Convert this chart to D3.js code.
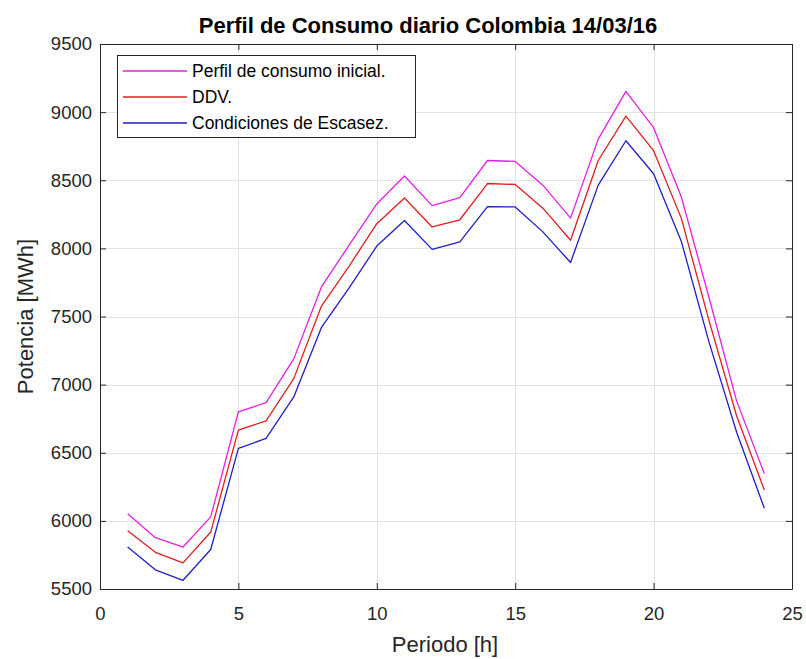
<!DOCTYPE html>
<html>
<head>
<meta charset="utf-8">
<script src="https://cdn.jsdelivr.net/npm/d3@7"></script>
<style>
  html, body { margin: 0; padding: 0; background: #ffffff; }
  svg { display: block; font-family: "Liberation Sans", Arial, Helvetica, sans-serif; }
</style>
</head>
<body>
<svg id="chart" width="806" height="659"></svg>
<script>
// Hourly periods of the day
const hours = [1, 2, 3, 4, 5, 6, 7, 8, 9, 10, 11, 12, 13, 14, 15, 16, 17, 18, 19, 20, 21, 22, 23, 24];

// Initial consumption profile [MWh]
const perfilInicial = [6053, 5877, 5808, 6029, 6800, 6868, 7189, 7717, 8024, 8326, 8531, 8314,
                       8372, 8645, 8638, 8464, 8222, 8802, 9152, 8886, 8379, 7641, 6879, 6347];
// DDV profile [MWh]
const ddv = [5928, 5769, 5692, 5918, 6666, 6734, 7044, 7577, 7870, 8181, 8370, 8157,
             8210, 8476, 8469, 8295, 8060, 8645, 8971, 8717, 8222, 7471, 6770, 6226];
// Scarcity-conditions profile [MWh]
const escasez = [5808, 5641, 5564, 5790, 6532, 6605, 6910, 7420, 7710, 8017, 8205, 7993,
                 8048, 8307, 8304, 8121, 7896, 8464, 8790, 8548, 8053, 7314, 6650, 6092];

const xTicks = [0, 5, 10, 15, 20, 25];
const yTicks = [5500, 6000, 6500, 7000, 7500, 8000, 8500, 9000, 9500];

const seriesNames = ["Perfil de consumo inicial.", "DDV.", "Condiciones de Escasez."];
const seriesColors = ["#e61ee6", "#e01e1e", "#1e1ec8"];
const seriesValues = [perfilInicial, ddv, escasez];

const titleText = "Perfil de Consumo diario Colombia 14/03/16";
const xLabelText = "Periodo [h]";
const yLabelText = "Potencia [MWh]";

(function draw() {
  const svg = d3.select("#chart");
  const pl = 100, pr = 792, pt = 44, pb = 589;
  const axisColor = "#262626";

  const x = d3.scaleLinear().domain([0, 25]).range([pl, pr]);
  const y = d3.scaleLinear().domain([5500, 9500]).range([pb, pt]);

  // Grid
  const grid = svg.append("g").attr("stroke", "#e3e3e3").attr("stroke-width", 1);
  grid.selectAll("line.gx").data(xTicks.slice(1, -1)).join("line")
    .attr("x1", d => Math.round(x(d)) + 0.5).attr("x2", d => Math.round(x(d)) + 0.5)
    .attr("y1", pt).attr("y2", pb);
  grid.selectAll("line.gy").data(yTicks.slice(1, -1)).join("line")
    .attr("y1", d => Math.round(y(d)) + 0.5).attr("y2", d => Math.round(y(d)) + 0.5)
    .attr("x1", pl).attr("x2", pr);

  // Series lines
  const line = d3.line().x((d, i) => x(hours[i])).y(d => y(d));
  svg.append("g").selectAll("path").data(seriesValues).join("path")
    .attr("d", d => line(d))
    .attr("fill", "none")
    .attr("stroke", (d, i) => seriesColors[i])
    .attr("stroke-width", 1.3)
    .attr("stroke-linejoin", "round");

  // Axes (ticks pointing inward on all four sides)
  const tickLen = 6;
  const styleAxis = g => {
    g.select(".domain").attr("stroke", axisColor);
    g.selectAll(".tick line").attr("stroke", axisColor);
    g.selectAll(".tick text").attr("fill", "#262626").attr("font-size", 18.5)
      .attr("font-family", "'Liberation Sans', Arial, sans-serif");
  };
  svg.append("g").attr("transform", `translate(0,${pb})`)
    .call(d3.axisBottom(x).tickValues(xTicks).tickSizeInner(-tickLen).tickSizeOuter(0).tickPadding(18).tickFormat(d3.format("d")))
    .call(styleAxis);
  svg.append("g").attr("transform", `translate(${pl},0)`)
    .call(d3.axisLeft(y).tickValues(yTicks).tickSizeInner(-tickLen).tickSizeOuter(0).tickPadding(8).tickFormat(d3.format("d")))
    .call(styleAxis);
  svg.append("g").attr("transform", `translate(0,${pt})`)
    .call(d3.axisTop(x).tickValues(xTicks).tickSizeInner(-tickLen).tickSizeOuter(0).tickFormat(""))
    .call(styleAxis);
  svg.append("g").attr("transform", `translate(${pr},0)`)
    .call(d3.axisRight(y).tickValues(yTicks).tickSizeInner(-tickLen).tickSizeOuter(0).tickFormat(""))
    .call(styleAxis);

  // Title and axis labels
  svg.append("text").attr("x", 428).attr("y", 33).attr("text-anchor", "middle")
    .attr("font-size", 22).attr("font-weight", "bold").attr("fill", "#000")
    .text(titleText);
  svg.append("text").attr("x", 445).attr("y", 652).attr("text-anchor", "middle")
    .attr("font-size", 22).attr("fill", "#262626").text(xLabelText);
  svg.append("text").attr("transform", `translate(33,${(pt + pb) / 2}) rotate(-90)`)
    .attr("text-anchor", "middle").attr("font-size", 22).attr("fill", "#262626").text(yLabelText);

  // Legend
  const lg = svg.append("g");
  lg.append("rect").attr("x", 117.5).attr("y", 55.5).attr("width", 298).attr("height", 82)
    .attr("fill", "#ffffff").attr("stroke", axisColor).attr("stroke-width", 1);
  const rowY = [71, 97, 123];
  seriesNames.forEach((name, i) => {
    lg.append("line").attr("x1", 123).attr("x2", 187).attr("y1", rowY[i]).attr("y2", rowY[i])
      .attr("stroke", seriesColors[i]).attr("stroke-width", 1.3);
    lg.append("text").attr("x", 192).attr("y", rowY[i] + 6)
      .attr("font-size", 17.5).attr("fill", "#000").text(name);
  });
})();
</script>
</body>
</html>
